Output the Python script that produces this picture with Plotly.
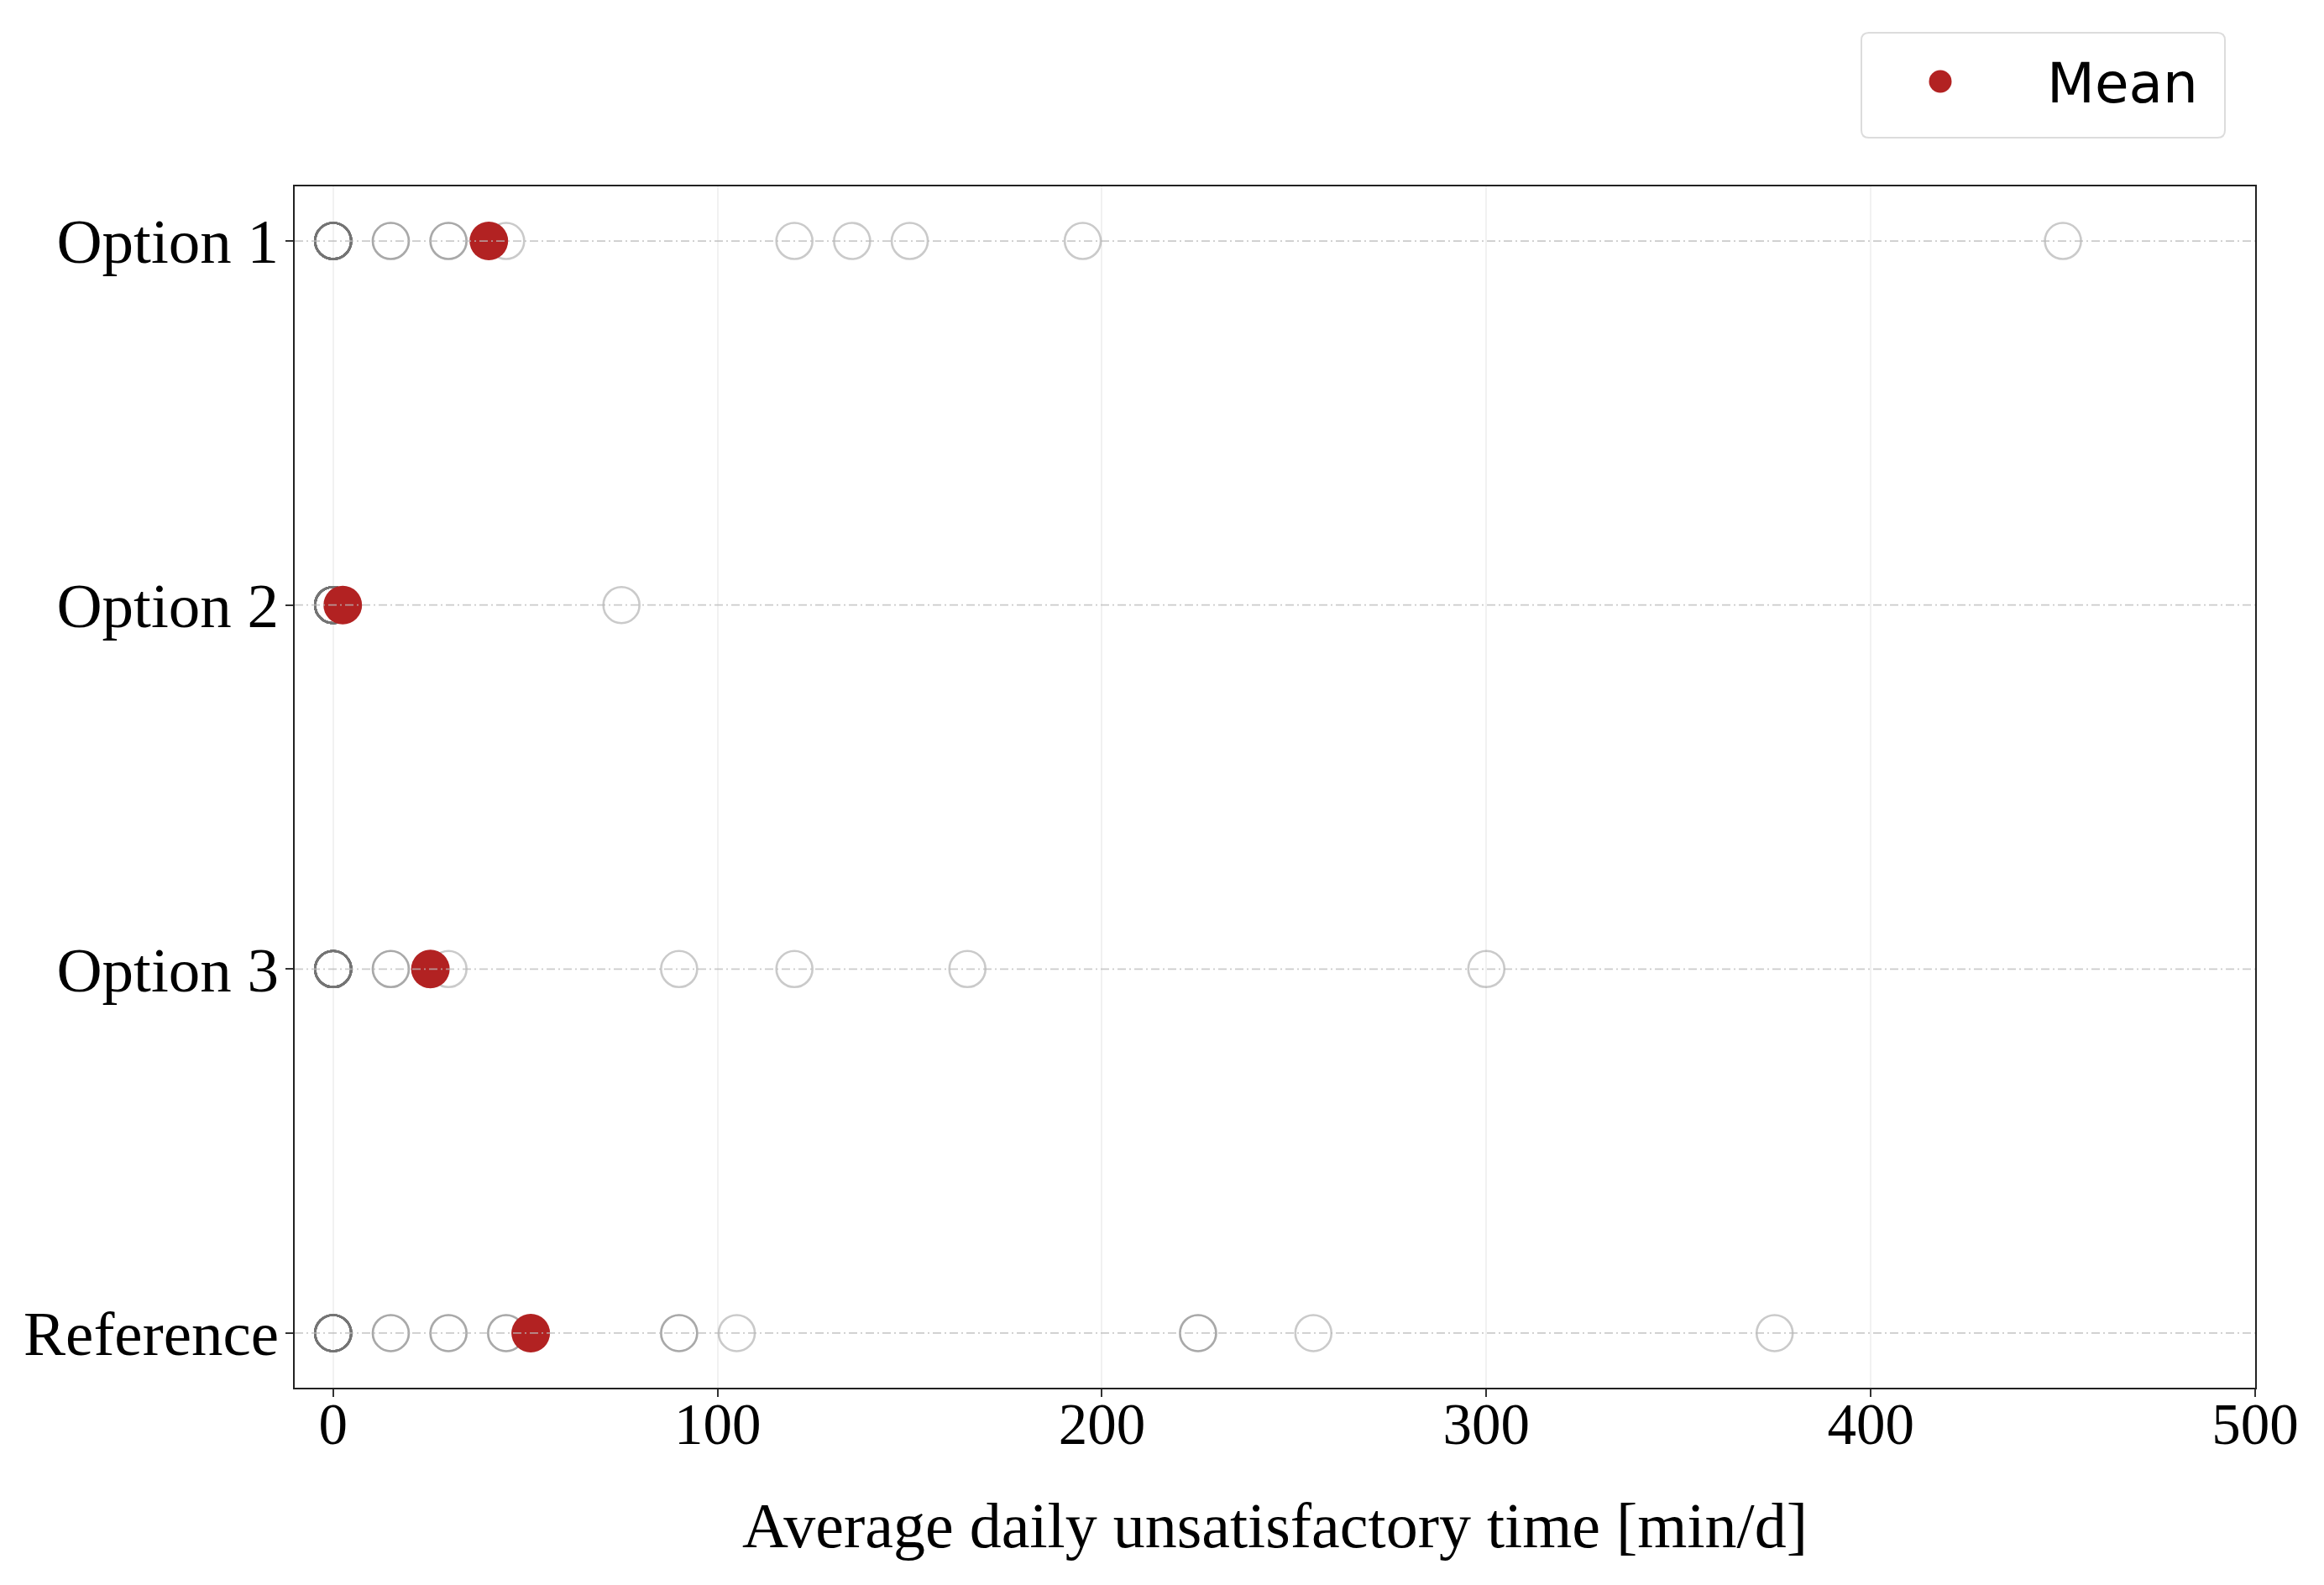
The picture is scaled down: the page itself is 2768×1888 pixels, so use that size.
import numpy as np
import plotly.graph_objects as go

# ---------------- data ----------------
categories = ["Option 1", "Option 2", "Option 3", "Reference"]

opt1_values = [0, 15, 30, 45, 120, 135, 150, 195, 450]
opt1_counts = [18, 2, 2, 1, 1, 1, 1, 1, 1]

opt2_values = [0, 75]
opt2_counts = [29, 1]

opt3_values = [0, 15, 30, 90, 120, 165, 300]
opt3_counts = [22, 2, 1, 1, 1, 1, 1]

ref_values = [0, 15, 30, 45, 90, 105, 225, 255, 375]
ref_counts = [17, 2, 2, 2, 2, 1, 2, 1, 1]

mean_values = [40.5, 2.5, 25.3, 51.4]

x_title = "Average daily unsatisfactory time [min/d]"
x_ticks = [0, 100, 200, 300, 400, 500]
legend_label = "Mean"

# ---------------- figure ----------------
W, H = 2768, 1888
L, R, T, B = 351, 82, 222, 235

series = {
    "Option 1": (opt1_values, opt1_counts),
    "Option 2": (opt2_values, opt2_counts),
    "Option 3": (opt3_values, opt3_counts),
    "Reference": (ref_values, ref_counts),
}

fig = go.Figure()

ring = "rgba(115,115,115,0.38)"
for cat in categories:
    vals, cnts = series[cat]
    xs = np.repeat(vals, cnts)
    fig.add_trace(go.Scatter(
        x=xs, y=[cat] * len(xs), mode="markers",
        marker=dict(symbol="circle-open", size=43, color=ring,
                    line=dict(width=2.6, color=ring)),
        showlegend=False, hoverinfo="x+y", name=cat,
    ))

fig.add_trace(go.Scatter(
    x=mean_values, y=categories, mode="markers",
    marker=dict(symbol="circle", size=46, color="#b22222", line=dict(width=0)),
    name=legend_label, showlegend=False,
))

# dash-dot horizontal guide lines on top of the markers
shapes = []
for cat in categories:
    shapes.append(dict(type="line", xref="x domain", yref="y", x0=0, x1=1,
                       y0=cat, y1=cat, layer="above",
                       line=dict(color="rgba(185,185,185,0.75)", width=1.8,
                                 dash="10px,4px,2px,4px")))

# custom legend (rounded box + dot + label), placed above the plot area
pw, ph = W - L - R, H - T - B
def px_x(p):
    return (p - L) / pw
def px_y(p):
    return (H - B - p) / ph

bx0, bx1, by0, by1, rad = 2217, 2650, 39, 164, 9
path = (f"M {px_x(bx0+rad)},{px_y(by0)} L {px_x(bx1-rad)},{px_y(by0)} "
        f"Q {px_x(bx1)},{px_y(by0)} {px_x(bx1)},{px_y(by0+rad)} "
        f"L {px_x(bx1)},{px_y(by1-rad)} Q {px_x(bx1)},{px_y(by1)} {px_x(bx1-rad)},{px_y(by1)} "
        f"L {px_x(bx0+rad)},{px_y(by1)} Q {px_x(bx0)},{px_y(by1)} {px_x(bx0)},{px_y(by1-rad)} "
        f"L {px_x(bx0)},{px_y(by0+rad)} Q {px_x(bx0)},{px_y(by0)} {px_x(bx0+rad)},{px_y(by0)} Z")
shapes.append(dict(type="path", xref="paper", yref="paper", path=path,
                   line=dict(color="#dcdcdc", width=2), fillcolor="white", layer="above"))
cx, cy, r = 2311, 97, 13.5
shapes.append(dict(type="circle", xref="paper", yref="paper",
                   x0=px_x(cx - r), x1=px_x(cx + r), y0=px_y(cy + r), y1=px_y(cy - r),
                   fillcolor="#b22222", line=dict(width=0), layer="above"))

annotations = [dict(xref="paper", yref="paper", x=px_x(2436), y=px_y(100),
                    xanchor="left", yanchor="middle", text=legend_label, showarrow=False,
                    font=dict(family="DejaVu Sans", size=66, color="black"))]

serif = "Liberation Serif"
fig.update_layout(
    width=W, height=H,
    margin=dict(l=L, r=R, t=T, b=B, pad=0),
    paper_bgcolor="white", plot_bgcolor="white",
    shapes=shapes, annotations=annotations,
    showlegend=False,
    xaxis=dict(
        range=[-10, 500], tickvals=x_ticks, ticktext=[str(v) for v in x_ticks],
        showgrid=True, gridcolor="#f1f1f1", gridwidth=2, zeroline=False,
        showline=True, linecolor="#222", linewidth=2, mirror=True,
        ticks="outside", ticklen=9, tickwidth=2, tickcolor="#333",
        ticklabelstandoff=-27,
        tickfont=dict(family=serif, size=69, color="black"),
        title=dict(text=x_title, font=dict(family=serif, size=76, color="black"), standoff=56),
    ),
    yaxis=dict(
        type="category", categoryorder="array", categoryarray=categories[::-1],
        range=[-0.15, 3.15], showgrid=False, zeroline=False,
        showline=True, linecolor="#222", linewidth=2, mirror=True,
        ticks="outside", ticklen=9, tickwidth=2, tickcolor="#333",
        ticklabelstandoff=-7,
        tickfont=dict(family=serif, size=75, color="black"),
    ),
)

fig.write_html("out.html", config={"displayModeBar": False},
               post_script="document.body.style.margin='0px';")
